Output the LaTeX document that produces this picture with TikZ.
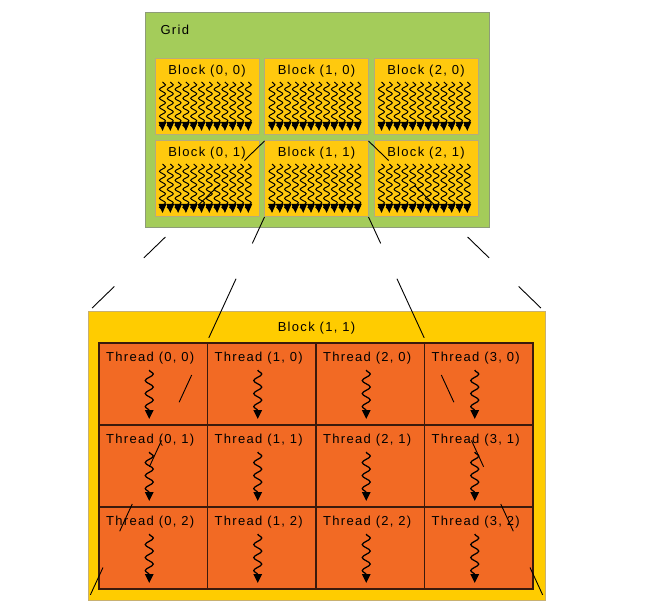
\documentclass[tikz,border=0pt]{standalone}
\usepackage{fontspec}
\newfontfamily\diagfont{Liberation Sans}[LetterSpace=10]
\usetikzlibrary{arrows.meta,decorations.pathmorphing}
\definecolor{gridgreen}{HTML}{A4CC5A}
\definecolor{gridedge}{HTML}{8E9C78}
\definecolor{blockyellow}{HTML}{FFC90E}
\definecolor{blockedge}{HTML}{B4AC7C}
\definecolor{bigyellow}{HTML}{FFCC00}
\definecolor{bigedge}{HTML}{C8B070}
\definecolor{threadorange}{HTML}{F26A24}
\definecolor{threadedge}{HTML}{3A1A0C}

\begin{document}
\begin{tikzpicture}[x=1pt,y=-1pt,font=\diagfont\fontsize{13}{15}\selectfont,
    box/.style={anchor=north west,inner sep=0pt,outer sep=0pt},
    gridbox/.style={box,draw=gridedge,fill=gridgreen,line width=1pt,minimum width=344pt,minimum height=215pt},
    block/.style={box,draw=blockedge,fill=blockyellow,line width=1pt,minimum width=104pt,minimum height=76pt},
    bigblock/.style={box,draw=bigedge,fill=bigyellow,line width=1pt,minimum width=457pt,minimum height=288pt},
    thread/.style={box,draw=threadedge,fill=threadorange,line width=1.3pt,minimum width=108.5pt,minimum height=82pt},
    wavy/.style={line width=1pt,decorate,decoration={snake,amplitude=3pt,segment length=9pt,post length=2pt},
      -{Triangle[width=7.6pt,length=9pt]}},
    twavy/.style={line width=1.25pt,decorate,decoration={snake,amplitude=4pt,segment length=13pt,post length=2pt},
      -{Triangle[width=8.5pt,length=9pt]}},
    proj/.style={line width=0.9pt},
    topdash/.style={proj,dash pattern=on 28pt off 36pt on 28pt off 46pt on 30pt off 41pt on 31pt off 40pt},
    botdash/.style={proj,dash pattern=on 29pt off 39pt on 65pt off 41pt on 30pt off 42pt on 29pt off 41pt on 30pt off 40pt on 30pt off 40pt}]

    \useasboundingbox (0,0) rectangle (650,609);

    % grid of blocks
    \node[gridbox] (grid) at (145,13) {};
    \node[anchor=west] (gridl) at (157,30) {Grid};
    \foreach \col in {0,1,2}
      \foreach \row in {0,1} {
        \node[block] (b\col\row) at ({155+109.5*\col}, {59+82*\row}) {};
        \node (lb\col\row) at ([yshift=-12pt]b\col\row.north) {Block (\col, \row)};
        \foreach \k in {0,...,11}
          \draw[wavy] ([xshift={7.5+7.8*\k}, yshift=-23pt]b\col\row.north west) -- ++(0,49);
      }

    % block (1, 1) in detail
    \node[bigblock] (big) at (88,312) {};
    \node (bigl) at ([yshift=-16pt]big.north) {Block (1, 1)};
    \foreach \col in {0,...,3}
      \foreach \row in {0,1,2} {
        \node[thread] (t\col\row) at ({99+108.5*\col}, {343+82*\row}) {};
        \node (lt\col\row) at ([xshift=-3pt, yshift=-15pt]t\col\row.north) {Thread (\col, \row)};
        \draw[twavy] ([xshift=-4pt, yshift=-27pt]t\col\row.north) -- ([xshift=-4pt, yshift=-76pt]t\col\row.north);
      }

    \draw[topdash] (b11.north west) -- (big.north west);
    \draw[topdash] (b11.north east) -- (big.north east);
    \draw[botdash] (b11.south west) -- (big.south west);
    \draw[botdash] (b11.south east) -- (big.south east);

  \end{tikzpicture}
\end{document}
